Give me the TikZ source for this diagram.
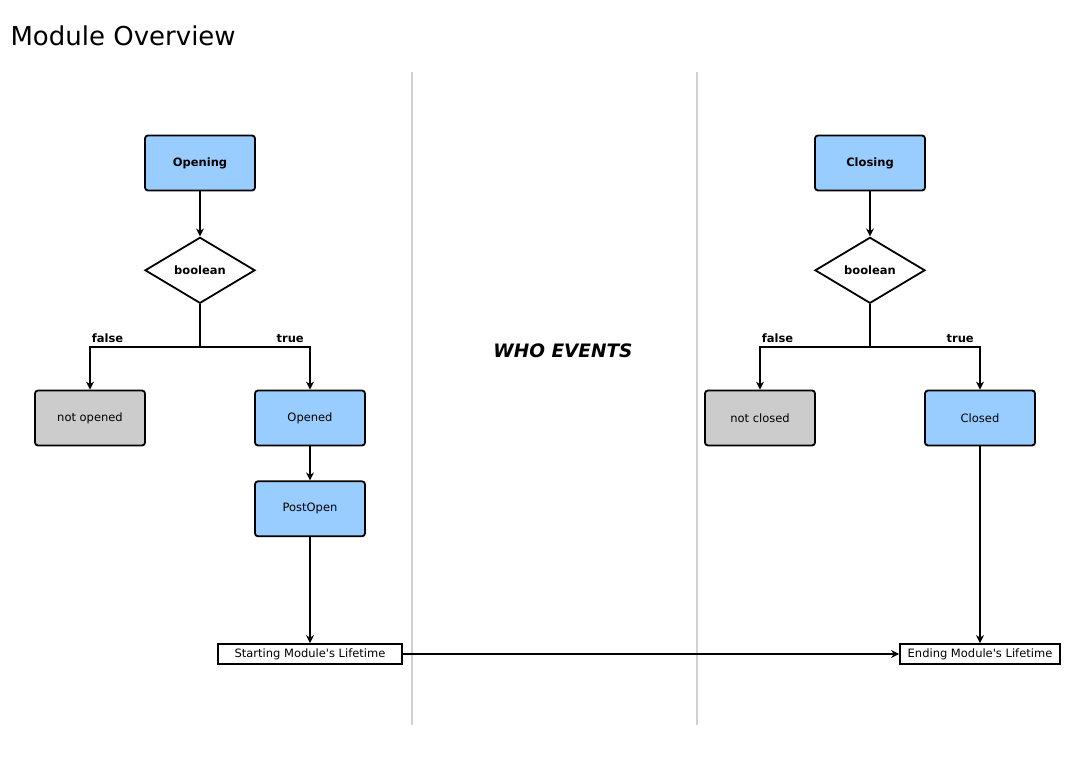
\documentclass[tikz,border=0pt]{standalone}
\usepackage{fontspec}
\setmainfont{DejaVu Sans}
\usetikzlibrary{shapes.geometric, arrows.meta, positioning}
\definecolor{boxblue}{HTML}{99CCFF}
\definecolor{boxgray}{HTML}{CCCCCC}
\definecolor{lanegray}{HTML}{D0D0D0}
\newcommand{\boxfont}{\fontsize{11.5}{13}\selectfont}
\tikzstyle{process} = [rectangle, rounded corners=3pt, minimum width=110pt, minimum height=55pt, text centered, draw=black, line width=1.8pt, fill=boxblue, font=\boxfont]
\tikzstyle{failed} = [process, fill=boxgray]
\tikzstyle{decision} = [diamond, aspect=1.67, minimum width=110pt, minimum height=66pt, inner sep=0pt, text centered, draw=black, line width=1.8pt, fill=white, font=\bfseries\boxfont]
\tikzstyle{lifetime} = [rectangle, minimum height=20pt, inner sep=0pt, text centered, draw=black, line width=1.8pt, fill=white, font=\boxfont]
\tikzstyle{branch} = [above, font=\bfseries\boxfont]
\tikzstyle{arrow} = [line width=1.1pt, -{Stealth[length=8pt, width=8pt]}]
\tikzstyle{lane} = [draw=lanegray, line width=2pt]

\begin{document}
\begin{tikzpicture}[x=1pt, y=-1pt]
\useasboundingbox (0,0) rectangle (1077,762);

% Title and lanes
\node (title) [anchor=west, font=\fontsize{26}{30}\selectfont] at (7,36) {Module Overview};
\draw [lane] (412,72) -- (412,725);
\draw [lane] (697,72) -- (697,725);
\node (who) [font=\bfseries\itshape\fontsize{18.5}{22}\selectfont] at (563,351) {WHO EVENTS};

% Nodes
\node (opening) [process, font=\bfseries\boxfont] at (200,163) {Opening};
\node (bool1) [decision, below=45pt of opening] {boolean};
\coordinate (split1) at (200,347);
\node (notopened) [failed] at (90,418) {not opened};
\node (opened) [process] at (310,418) {Opened};
\node (postopen) [process, below=34pt of opened] {PostOpen};
\node (starting) [lifetime, minimum width=184pt] at (310,654) {Starting Module\textquotesingle s Lifetime};

% Closing flow
\node (closing) [process, font=\bfseries\boxfont] at (870,163) {Closing};
\node (bool2) [decision, below=45pt of closing] {boolean};
\coordinate (split2) at (870,347);
\node (notclosed) [failed] at (760,418) {not closed};
\node (closed) [process] at (980,418) {Closed};
\node (ending) [lifetime, minimum width=160pt] at (980,654) {Ending Module\textquotesingle s Lifetime};

% Arrows
\draw [arrow] (opening) -- (bool1);
\draw [line width=1.1pt] (bool1) -- (split1);
\draw [arrow] (split1) -| node[branch, pos=0.42] {false} (notopened);
\draw [arrow] (split1) -| node[branch, pos=0.41] {true} (opened);
\draw [arrow] (opened) -- (postopen);
\draw [arrow] (postopen) -- (starting);

% Closing arrows
\draw [arrow] (closing) -- (bool2);
\draw [line width=1.1pt] (bool2) -- (split2);
\draw [arrow] (split2) -| node[branch, pos=0.42] {false} (notclosed);
\draw [arrow] (split2) -| node[branch, pos=0.41] {true} (closed);
\draw [arrow] (closed) -- (ending);

\draw [arrow] (starting) -- (ending);

\end{tikzpicture}
\end{document}
